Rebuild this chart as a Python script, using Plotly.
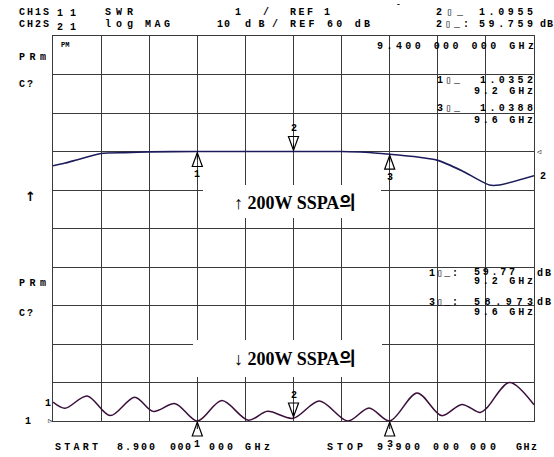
import numpy as np
import plotly.graph_objects as go

# ---- data (grid divisions, 0 = bottom line, 10 = top line) ----
freq_start, freq_stop = 8.9, 9.9
ch1_div_x = [0.0, 0.25, 0.49, 1.0, 1.5, 2.0, 3.0, 4.0, 5.0, 6.0, 6.5, 7.0, 7.5, 8.0, 8.5, 9.07, 9.28, 10.0]
ch1_level = [6.63, 6.70, 6.78, 6.95, 6.97, 6.99, 7.0, 7.0, 7.0, 7.0, 6.98, 6.93, 6.87, 6.77, 6.50, 6.13, 6.13, 6.37]
ch2_div_x = [0.0, 0.25, 0.71, 1.19, 1.70, 2.08, 2.54, 3.0, 3.51, 4.06, 4.46, 4.99, 5.54, 6.13, 6.57, 7.0,
             7.57, 8.08, 8.50, 8.88, 9.02, 9.49, 10.0]
ch2_level = [0.49, 0.33, 0.65, 0.14, 0.62, 0.25, 0.45, 0.0, 0.53, 0.02, 0.25, 0.07, 0.52, 0.0, 0.34, 0.0,
             0.73, 0.14, 0.43, 0.22, 0.34, 1.0, 0.42]
marker_freqs = [9.2, 9.4, 9.6]
marker_names = ["1", "2", "3"]

ch1_freq = [freq_start + d * 0.1 for d in ch1_div_x]
ch2_freq = [freq_start + d * 0.1 for d in ch2_div_x]

W, H = 554, 457
X0, X1, Y0, Y1 = 53, 534, 36, 421

fig = go.Figure()
fig.add_trace(go.Scatter(x=ch1_freq, y=ch1_level, mode="lines",
                         line=dict(color="#1c1c5c", width=1.6, shape="spline", smoothing=0.6),
                         hoverinfo="skip", showlegend=False))
fig.add_trace(go.Scatter(x=ch2_freq, y=ch2_level, mode="lines",
                         line=dict(color="#3a0f3a", width=1.5, shape="spline", smoothing=0.9),
                         hoverinfo="skip", showlegend=False))

def px(x):
    return x / W

def py(y):
    return 1 - y / H

def fx(f):
    return px(X0) + (f - freq_start) / (freq_stop - freq_start) * (px(X1) - px(X0))

def fy(v):
    return py(Y1) + v / 10.0 * (py(Y0) - py(Y1))

ann = []
MONO = "Liberation Mono, DejaVu Sans Mono, monospace"

def txt(x, y, t, x_end=None, size=10, weight=700, family=MONO):
    """Left-anchored monospace text; letter spacing chosen so the ink spans x..x_end."""
    n = len(t)
    ls = 0.0
    if x_end is not None and n > 1:
        ls = (x_end - x - 0.5 * size - (n - 1) * 0.6 * size) / (n - 1)
    ann.append(dict(x=px(x), y=py(y), xref="paper", yref="paper", xanchor="left", yanchor="middle",
                    text=f'<span style="letter-spacing:{ls:.2f}px">{t}</span>', showarrow=False,
                    font=dict(size=size, family=family, color="black", weight=weight)))

# header
txt(17, 12, "CH1S", 46); txt(55, 14, "11", 73); txt(103, 12, "SWR", 130)
txt(233, 12, "1"); txt(261, 12, "/")
txt(288, 12, "REF 1", 327); txt(434, 12, "2▯_", 460); txt(477, 12, "1.0955", 530)
txt(17, 25, "CH2S", 46); txt(55, 27, "21", 73); txt(103, 25, "log", 130); txt(143, 25, "MAG", 167)
txt(215, 25, "10", 227); txt(243, 25, "dB/", 275); txt(288, 25, "REF 60 dB", 367)
txt(434, 25, "2▯_:", 466); txt(477, 25, "59.759", 530); txt(538, 25, "dB", 550)
txt(394, 4, "-", size=8)

# channel 1 annotations
txt(59, 45, "PM", size=7)
txt(375, 46, "9.400 000 000 GHz", 531)
txt(17, 58, "PRm", 43); txt(17, 85, "C?", 30); txt(23, 197, "↑", size=13, family="DejaVu Sans")
txt(435, 80, "1▯_", 457); txt(478, 80, "1.0352", 530); txt(472, 91, "9.2 GHz", 530)
txt(435, 108, "3▯_", 457); txt(478, 108, "1.0388", 530); txt(472, 120, "9.6 GHz", 530)
txt(538, 177, "2"); txt(535, 152, "◁", size=7, weight=400)

# channel 2 annotations
txt(17, 283, "PRm", 43); txt(17, 313, "C?", 30)
txt(427, 273, "1▯_:", 455); txt(472, 272, "59.77", 512); txt(535, 273, "dB", 548); txt(472, 281, "9.2 GHz", 530)
txt(427, 302, "3▯_:", 455); txt(472, 302, "58.973", 530); txt(535, 302, "dB", 548); txt(472, 312, "9.6 GHz", 530)
txt(43, 403, "1"); txt(23, 421, "1"); txt(46, 421, "▷", size=7, weight=400)

# bottom row
txt(53, 447, "START", 95); txt(115, 447, "8.900", 152); txt(168, 447, "000", 188)
txt(207, 447, "000", 230); txt(243, 447, "GHz", 267)
txt(325, 447, "STOP", 360); txt(375, 447, "9.900", 417); txt(431, 447, "000", 456)
txt(468, 447, "000", 493); txt(514, 447, "GHz", 534)

# overlay captions
cap_font = dict(size=18, family="Liberation Serif, Noto Sans CJK KR", color="black", weight=700)
ann.append(dict(x=px(295), y=py(203), xref="paper", yref="paper", xanchor="center", yanchor="middle",
                text="↑ 200W SSPA의", showarrow=False, font=cap_font))
ann.append(dict(x=px(295), y=py(359), xref="paper", yref="paper", xanchor="center", yanchor="middle",
                text="↓ 200W SSPA의", showarrow=False, font=cap_font))

shapes = [
    dict(type="rect", xref="paper", yref="paper", x0=px(203), x1=px(381), y0=py(218), y1=py(185),
         fillcolor="white", line=dict(width=0), layer="above"),
    dict(type="rect", xref="paper", yref="paper", x0=px(193), x1=px(382), y0=py(377), y1=py(340),
         fillcolor="white", line=dict(width=0), layer="above"),
]

# marker triangles
hw, th = 0.0105, 0.36
for name, f in zip(marker_names, marker_freqs):
    for xs, ys in ((ch1_freq, ch1_level), (ch2_freq, ch2_level)):
        v = float(np.interp(f, xs, ys))
        if name == "2":
            a = v + 0.03
            b = a + th
            lab = b + 0.2
        else:
            a = v - 0.03
            b = a - th
            lab = b - 0.22
        shapes.append(dict(type="path", xref="paper", yref="paper",
                           path=f"M {fx(f)},{fy(a)} L {fx(f - hw)},{fy(b)} L {fx(f + hw)},{fy(b)} Z",
                           line=dict(color="black", width=1.2), fillcolor="rgba(0,0,0,0)", layer="above"))
        shapes.append(dict(type="line", xref="paper", yref="paper", x0=fx(f), x1=fx(f), y0=fy(a),
                           y1=fy((a + b) / 2), line=dict(color="black", width=1), layer="above"))
        ann.append(dict(x=fx(f), y=fy(lab), xref="paper", yref="paper", xanchor="center", yanchor="middle",
                        text=name, showarrow=False,
                        font=dict(size=10, family=MONO, color="black", weight=700)))

axis_common = dict(showgrid=True, gridcolor="#3a3a3a", gridwidth=1, zeroline=False, showticklabels=False,
                   ticks="", showline=True, linecolor="#3a3a3a", linewidth=1.2, mirror=True)

fig.update_layout(
    width=W, height=H, autosize=False, margin=dict(l=0, r=0, t=0, b=0),
    paper_bgcolor="white", plot_bgcolor="white",
    xaxis=dict(range=[freq_start, freq_stop], dtick=0.1, tick0=freq_start,
               domain=[px(X0), px(X1)], **axis_common),
    yaxis=dict(range=[0, 10], dtick=1, tick0=0, domain=[py(Y1), py(Y0)], **axis_common),
    annotations=ann, shapes=shapes, showlegend=False,
)

fig.write_html("out.html", config={"displayModeBar": False},
               post_script="document.body.style.margin='0';")
